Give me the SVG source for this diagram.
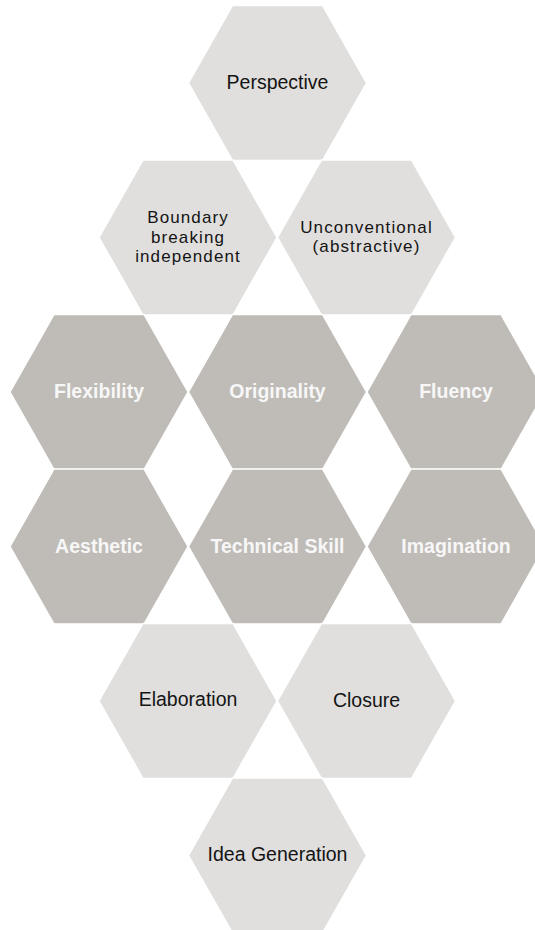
<svg xmlns="http://www.w3.org/2000/svg" xmlns:xlink="http://www.w3.org/1999/xlink" width="535" height="930" viewBox="0 0 535 930">
<style>
.light{fill:#e0dfdd;stroke:#ffffff;stroke-width:1.5}
.dark{fill:#bfbcb8;stroke:#ffffff;stroke-width:1.5}
.lt{font-family:"Liberation Sans",Arial,sans-serif;font-size:19.5px;fill:#141414;text-anchor:middle}
.ml{font-size:17px;letter-spacing:1.1px}
.dt{font-family:"Liberation Sans",Arial,sans-serif;font-size:19.5px;font-weight:bold;fill:#f7f7f7;text-anchor:middle}
</style>
<defs>
<polygon id="hex" points="-89,0 -45,-77.5 45,-77.5 89,0 45,77.5 -45,77.5"/>
</defs>
<rect width="535" height="930" fill="#ffffff"/>
<g id="perspective" transform="translate(277.5,83)">
<use xlink:href="#hex" class="light"/>
<text class="lt" y="6">Perspective</text>
</g>
<g id="boundary" transform="translate(188,237.5)">
<use xlink:href="#hex" class="light"/>
<text class="lt ml" y="-14.5">Boundary</text>
<text class="lt ml" y="5">breaking</text>
<text class="lt ml" y="24.5">independent</text>
</g>
<g id="unconventional" transform="translate(366.5,237.5)">
<use xlink:href="#hex" class="light"/>
<text class="lt ml" y="-5">Unconventional</text>
<text class="lt ml" y="14.5">(abstractive)</text>
</g>
<g id="flexibility" transform="translate(99,392)">
<use xlink:href="#hex" class="dark"/>
<text class="dt" y="6">Flexibility</text>
</g>
<g id="originality" transform="translate(277.5,392)">
<use xlink:href="#hex" class="dark"/>
<text class="dt" y="6">Originality</text>
</g>
<g id="fluency" transform="translate(456,392)">
<use xlink:href="#hex" class="dark"/>
<text class="dt" y="6">Fluency</text>
</g>
<g id="aesthetic" transform="translate(99,546.5)">
<use xlink:href="#hex" class="dark"/>
<text class="dt" y="6">Aesthetic</text>
</g>
<g id="technical-skill" transform="translate(277.5,546.5)">
<use xlink:href="#hex" class="dark"/>
<text class="dt" y="6">Technical Skill</text>
</g>
<g id="imagination" transform="translate(456,546.5)">
<use xlink:href="#hex" class="dark"/>
<text class="dt" y="6">Imagination</text>
</g>
<g id="elaboration" transform="translate(188,701)">
<use xlink:href="#hex" class="light"/>
<text class="lt" y="5">Elaboration</text>
</g>
<g id="closure" transform="translate(366.5,701)">
<use xlink:href="#hex" class="light"/>
<text class="lt" y="6">Closure</text>
</g>
<g id="idea-generation" transform="translate(277.5,855.5)">
<use xlink:href="#hex" class="light"/>
<text class="lt" y="5">Idea Generation</text>
</g>
</svg>
